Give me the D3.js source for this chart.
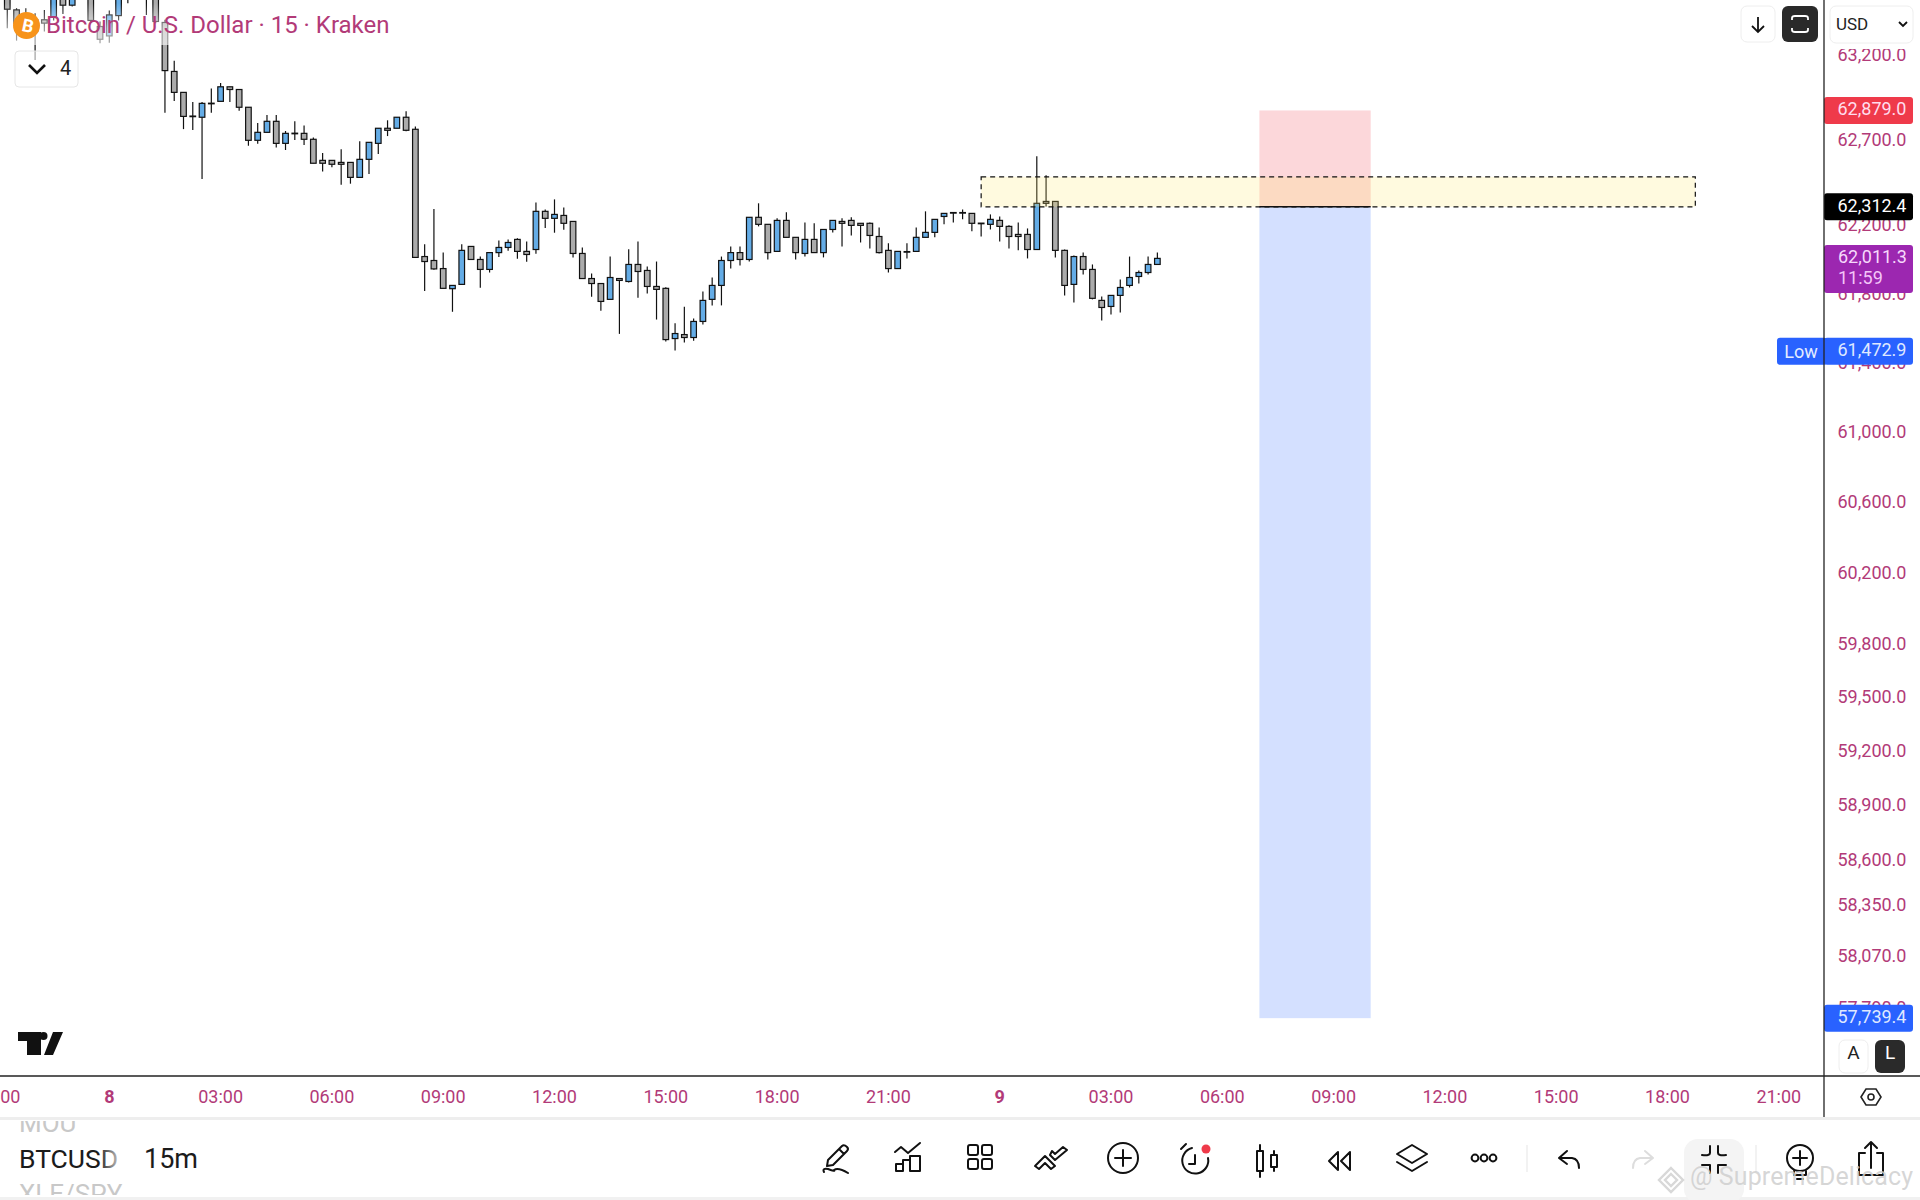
<!DOCTYPE html>
<html>
<head>
<meta charset="utf-8">
<script src="https://cdn.jsdelivr.net/npm/d3@7"></script>
<style>
  html, body { margin: 0; background: #fff; }
  text { font-family: Roboto, sans-serif; }
</style>
</head>
<body>
<div id="chart"></div>
<script>
// 15 minute bars, bar 0 is the 00:00 candle of the 8th, first bar in the lists is -11
const firstBar = -11;
const opens = [63616,63476,63357,63417,63417,63436,63576,63504,63596,63596,63377,63321,63442,63616,63656,63556,63596,63401,63110,62986,62846,62839,62920,62933,63019,63003,62898,62703,62750,62815,62685,62745,62744,62709,62585,62585,62573,62573,62485,62591,62685,62774,62774,62839,62768,62022,61999,61952,61835,61860,62081,62005,61947,62045,62075,62122,62052,62063,62286,62245,62262,62227,62040,61894,61865,61773,61894,61877,61976,61941,61848,61837,61546,61569,61552,61645,61773,61854,61999,62045,62005,62251,62210,62052,62233,62134,62040,62122,62045,62180,62227,62233,62216,62216,62139,62058,61952,62049,62052,62134,62163,62256,62277,62277,62274,62217,62210,62233,62198,62151,62151,62063,62344,62344,62058,61860,62022,61947,61767,61732,61796,61854,61906,61929,61976];
const highs = [63656,63486,63486,63456,63476,63636,63596,63616,63696,63616,63407,63472,63586,63636,63676,63636,63616,63417,63174,62986,62929,62929,63009,63041,63019,63003,62898,62805,62852,62852,62758,62815,62791,62720,62628,62585,62650,62573,62697,62691,62774,62821,62839,62874,62785,62093,62299,62045,61854,62093,62081,62022,62045,62116,62122,62128,62110,62338,62297,62356,62309,62227,62075,61923,61865,62022,61894,62065,62110,61964,61993,61843,61635,61730,61662,61819,61900,62022,62081,62081,62251,62333,62210,62245,62280,62134,62221,62216,62180,62233,62245,62251,62216,62221,62192,62099,62052,62099,62192,62286,62239,62274,62280,62297,62274,62217,62268,62256,62204,62221,62186,62609,62497,62344,62063,62028,62045,61976,61790,61796,61889,62022,61941,62022,62045];
const lows = [63367,63293,63307,63178,63347,63413,63452,63496,63576,63405,63277,63281,63413,63516,63586,63446,63397,62866,62935,62769,62764,62475,62866,62933,62929,62878,62671,62683,62750,62660,62646,62705,62675,62568,62519,62544,62442,62448,62485,62505,62622,62728,62774,62756,62017,61821,61945,61837,61701,61860,62005,61840,61929,62020,62056,62009,61991,62038,62188,62161,62178,62017,61894,61788,61707,61773,61573,61871,61782,61807,61656,61529,61477,61523,61533,61627,61738,61738,61952,61970,61993,62198,62005,62052,62134,62005,62022,62045,62017,62163,62081,62145,62104,62069,62040,61929,61952,62011,62052,62134,62134,62210,62221,62239,62169,62139,62180,62110,62069,62058,62011,62063,62315,62017,61796,61755,61917,61773,61650,61685,61697,61842,61865,61917,61976];
const closes = [63480,63393,63436,63347,63397,63616,63504,63596,63676,63413,63301,63446,63566,63556,63606,63616,63407,63115,62986,62844,62844,62921,62922,63019,63003,62898,62703,62750,62815,62685,62744,62743,62709,62568,62568,62562,62562,62485,62591,62691,62774,62762,62839,62762,62017,61993,61950,61837,61854,62058,62005,61947,62045,62075,62104,62052,62034,62286,62245,62268,62216,62040,61894,61865,61761,61900,61883,61976,61935,61848,61831,61540,61575,61552,61645,61767,61854,61999,62045,62005,62251,62210,62045,62233,62134,62045,62122,62045,62180,62233,62216,62204,62204,62145,62045,61952,62052,62051,62134,62163,62239,62274,62279,62279,62216,62215,62239,62198,62139,62139,62063,62333,62333,62058,61854,62022,61947,61779,61726,61796,61842,61900,61929,61976,62011.3];

const priceTicks = [63200,62700,62200,61800,61400,61000,60600,60200,59800,59500,59200,58900,58600,58350,58070,57790];
const timeTickBars = [-12,0,12,24,36,48,60,72,84,96,108,120,132,144,156,168,180];
const timeTickLabels = ['21:00','8','03:00','06:00','09:00','12:00','15:00','18:00','21:00','9','03:00','06:00','09:00','12:00','15:00','18:00','21:00'];

// drawings on the chart
const zonePrices = [62488, 62312.4];
const zoneBars = [94, 171];
const toolBars = [124, 136];
const stopPrice = 62879.0;
const entryPrice = 62312.4;
const targetPrice = 57739.4;
const lastPrice = 62011.3;
const lowPrice = 61472.9;

const bars = opens.map((o, i) => ({ bar: firstBar + i, o, h: highs[i], l: lows[i], c: closes[i] }));

const axisX = 1824, axisY = 1076;
const pink = '#b23a78';
const fmt = d3.format(',.1f');

const x = d3.scaleLinear().domain([0, 96]).range([109.3, 109.3 + 96 * 9.275]);
const y = d3.scaleLog().domain([57421, 63535]).range([1077, 0]);

const svg = d3.select('#chart').append('svg')
    .attr('width', 1920)
    .attr('height', 1200)
    .style('display', 'block');

const defs = svg.append('defs');
defs.append('clipPath').attr('id', 'plot')
  .append('rect').attr('width', axisX).attr('height', axisY);
defs.append('clipPath').attr('id', 'ticker')
  .append('rect').attr('y', 1121).attr('width', 130).attr('height', 74);

const legendFade = defs.append('linearGradient').attr('id', 'legendFade')
    .attr('x1', 0).attr('x2', 0).attr('y1', 0).attr('y2', 1);
legendFade.append('stop').attr('offset', 0).attr('stop-color', '#fff').attr('stop-opacity', 0);
legendFade.append('stop').attr('offset', 0.6).attr('stop-color', '#fff').attr('stop-opacity', 0.55);
legendFade.append('stop').attr('offset', 1).attr('stop-color', '#fff').attr('stop-opacity', 0.6);

const tickerFade = defs.append('linearGradient').attr('id', 'tickerFade');
tickerFade.append('stop').attr('offset', 0.8).attr('stop-color', '#1b1b1b');
tickerFade.append('stop').attr('offset', 1).attr('stop-color', '#bbb');

// candles
const plot = svg.append('g').attr('clip-path', 'url(#plot)');

const candle = plot.selectAll('g.candle')
    .data(bars)
  .join('g')
    .attr('class', 'candle');

candle.append('line')
    .attr('x1', d => x(d.bar))
    .attr('x2', d => x(d.bar))
    .attr('y1', d => y(d.h))
    .attr('y2', d => y(d.l))
    .attr('stroke', '#111')
    .attr('stroke-width', 1.2);

candle.append('rect')
    .attr('x', d => x(d.bar) - 2.8)
    .attr('width', 5.6)
    .attr('y', d => y(Math.max(d.o, d.c)))
    .attr('height', d => Math.max(0.6, y(Math.min(d.o, d.c)) - y(Math.max(d.o, d.c))))
    .attr('fill', d => d.c >= d.o ? '#64ace6' : '#ababab')
    .attr('stroke', '#111')
    .attr('stroke-width', 1.2);

// short position tool
plot.append('rect')
    .attr('x', x(toolBars[0]))
    .attr('width', x(toolBars[1]) - x(toolBars[0]))
    .attr('y', y(stopPrice))
    .attr('height', y(entryPrice) - y(stopPrice))
    .attr('fill', 'rgba(242,54,69,0.2)');
plot.append('rect')
    .attr('x', x(toolBars[0]))
    .attr('width', x(toolBars[1]) - x(toolBars[0]))
    .attr('y', y(entryPrice))
    .attr('height', y(targetPrice) - y(entryPrice))
    .attr('fill', 'rgba(41,98,255,0.2)');

// supply zone
plot.append('rect')
    .attr('x', x(zoneBars[0]))
    .attr('width', x(zoneBars[1]) - x(zoneBars[0]))
    .attr('y', y(zonePrices[0]))
    .attr('height', y(zonePrices[1]) - y(zonePrices[0]))
    .attr('fill', 'rgba(255,230,110,0.22)')
    .attr('stroke', '#111')
    .attr('stroke-width', 1.2)
    .attr('stroke-dasharray', '5,4');

plot.append('line')
    .attr('x1', x(toolBars[0]))
    .attr('x2', x(toolBars[1]))
    .attr('y1', y(entryPrice))
    .attr('y2', y(entryPrice))
    .attr('stroke', '#111')
    .attr('stroke-width', 1.4);

// legend
svg.append('rect')
    .attr('y', 3).attr('width', 395).attr('height', 42)
    .attr('fill', 'url(#legendFade)');
svg.append('circle').attr('cx', 26.5).attr('cy', 25.5).attr('r', 13.5).attr('fill', '#f7931a');
svg.append('text')
    .attr('transform', 'translate(26.5,32) rotate(12)')
    .attr('text-anchor', 'middle')
    .attr('font-size', 18)
    .attr('font-weight', 700)
    .attr('fill', '#fff')
    .text('B');
svg.append('text')
    .attr('x', 46).attr('y', 33)
    .attr('font-size', 24)
    .attr('fill', pink)
    .text('Bitcoin / U.S. Dollar · 15 · Kraken');

svg.append('rect')
    .attr('x', 15).attr('y', 51).attr('width', 63).attr('height', 36).attr('rx', 4)
    .attr('fill', 'rgba(255,255,255,0.6)')
    .attr('stroke', '#e6e6e6');
svg.append('path')
    .attr('d', 'M29,65 L37,73 L45,65')
    .attr('fill', 'none').attr('stroke', '#111').attr('stroke-width', 2.6);
svg.append('text')
    .attr('x', 60).attr('y', 75)
    .attr('font-size', 20).attr('fill', '#222')
    .text('4');

// tradingview logo
svg.append('path')
    .attr('d', 'M18,1032 H41 V1055 H27 V1041 H18 Z M53,1032 H63 L53,1055 H44 Z')
    .attr('fill', '#111');
svg.append('circle').attr('cx', 43.5).attr('cy', 1036).attr('r', 4).attr('fill', '#111');

// price axis
svg.selectAll('text.price')
    .data(priceTicks)
  .join('text')
    .attr('class', 'price')
    .attr('x', 1906.5)
    .attr('y', d => y(d) + 5)
    .attr('text-anchor', 'end')
    .attr('font-size', 18)
    .attr('fill', pink)
    .text(d => fmt(d));

const badges = [
  { price: stopPrice, fill: '#ef3a4a', h: 27, text: '#fde' },
  { price: entryPrice, fill: '#000', h: 27, text: '#fff' },
  { price: targetPrice, fill: '#2962ff', h: 27, text: '#dfe8ff' },
  { price: lowPrice, fill: '#2962ff', h: 27, text: '#dfe8ff' }
];
svg.selectAll('rect.badge')
    .data(badges)
  .join('rect')
    .attr('class', 'badge')
    .attr('x', 1824).attr('width', 89)
    .attr('y', d => y(d.price) - d.h / 2)
    .attr('height', d => d.h)
    .attr('rx', 3)
    .attr('fill', d => d.fill);
svg.selectAll('text.badge')
    .data(badges)
  .join('text')
    .attr('class', 'badge')
    .attr('x', 1906.5)
    .attr('y', d => y(d.price) + 5)
    .attr('text-anchor', 'end')
    .attr('font-size', 18)
    .attr('fill', d => d.text)
    .text(d => fmt(d.price));

// low label sticks out to the left of the axis
svg.append('rect')
    .attr('x', 1777).attr('width', 50)
    .attr('y', y(lowPrice) - 13.5).attr('height', 27).attr('rx', 3)
    .attr('fill', '#2962ff');
svg.append('text')
    .attr('x', 1801).attr('y', y(lowPrice) + 7)
    .attr('text-anchor', 'middle')
    .attr('font-size', 18).attr('fill', '#e4ecff')
    .text('Low');

// last price with countdown
svg.append('rect')
    .attr('x', 1824).attr('width', 89)
    .attr('y', y(lastPrice) - 13.5).attr('height', 48).attr('rx', 3)
    .attr('fill', '#9c27b0');
svg.append('text')
    .attr('x', 1838).attr('y', y(lastPrice) + 5)
    .attr('font-size', 18).attr('fill', '#f6d9fb')
    .text(fmt(lastPrice));
svg.append('text')
    .attr('x', 1838).attr('y', y(lastPrice) + 26)
    .attr('font-size', 18).attr('fill', '#f3c6f8')
    .text('11:59');

// time axis
svg.selectAll('text.time')
    .data(timeTickBars)
  .join('text')
    .attr('class', 'time')
    .attr('x', d => x(d))
    .attr('y', 1103)
    .attr('text-anchor', 'middle')
    .attr('font-size', 18)
    .attr('font-weight', (_, i) => timeTickLabels[i].length < 3 ? 700 : 400)
    .attr('fill', pink)
    .text((_, i) => timeTickLabels[i]);

svg.append('line').attr('x1', 0).attr('x2', 1920).attr('y1', axisY).attr('y2', axisY)
    .attr('stroke', '#222').attr('stroke-width', 1.3);
svg.append('line').attr('x1', axisX).attr('x2', axisX).attr('y1', 0).attr('y2', 1118)
    .attr('stroke', '#222').attr('stroke-width', 1.3);
svg.append('rect').attr('y', 1117).attr('width', 1920).attr('height', 3).attr('fill', '#eeeeee');
svg.append('rect').attr('y', 1197).attr('width', 1920).attr('height', 3).attr('fill', '#f1f1f1');

// top right buttons
const button = (bx, by, w, h, fill) => svg.append('rect')
    .attr('x', bx).attr('y', by).attr('width', w).attr('height', h).attr('rx', 6)
    .attr('fill', fill).attr('stroke', fill === '#fff' ? '#eeeeee' : 'none');

button(1741, 6, 34, 36, '#fff');
svg.append('path').attr('d', 'M1758,17 V32 M1752,26 L1758,32 L1764,26')
    .attr('fill', 'none').attr('stroke', '#111').attr('stroke-width', 1.8);
button(1782, 6, 36, 36, '#2a2a2a');
svg.append('path').attr('d', 'M1792,20 V18 Q1792,16 1795,16 H1805 Q1808,16 1808,18 V20 M1792,28 V30 Q1792,32 1795,32 H1805 Q1808,32 1808,30 V28')
    .attr('fill', 'none').attr('stroke', '#fff').attr('stroke-width', 1.8);
// the USD button hides the top of the first price label
svg.append('rect').attr('x', 1826).attr('y', 0).attr('width', 94).attr('height', 49).attr('fill', '#fff');
button(1830, 6, 83, 37, '#fff');
svg.append('text').attr('x', 1836).attr('y', 30).attr('font-size', 17).attr('fill', '#222').text('USD');
svg.append('path').attr('d', 'M1899,22 L1903,26 L1907,22')
    .attr('fill', 'none').attr('stroke', '#111').attr('stroke-width', 1.8);

// scale buttons
button(1839, 1040, 29, 33, '#fff');
svg.append('text').attr('x', 1853.5).attr('y', 1059).attr('text-anchor', 'middle')
    .attr('font-size', 19).attr('fill', '#222').text('A');
button(1875, 1040, 30, 33, '#2a2a2a');
svg.append('text').attr('x', 1890).attr('y', 1059).attr('text-anchor', 'middle')
    .attr('font-size', 19).attr('fill', '#fff').text('L');

// settings hexagon
svg.append('path').attr('d', 'M1861,1097 L1866,1089 H1876 L1881,1097 L1876,1105 H1866 Z')
    .attr('fill', 'none').attr('stroke', '#222').attr('stroke-width', 1.6);
svg.append('circle').attr('cx', 1871).attr('cy', 1097).attr('r', 3)
    .attr('fill', 'none').attr('stroke', '#222').attr('stroke-width', 1.6);

// bottom bar
const ticker = svg.append('g').attr('clip-path', 'url(#ticker)');
ticker.append('text').attr('x', 19).attr('y', 1132).attr('font-size', 26).attr('fill', '#c8c8c8').text('MOU');
ticker.append('text').attr('x', 19).attr('y', 1203).attr('font-size', 26).attr('fill', '#c8c8c8').text('XLE/SPY');
ticker.append('text').attr('x', 19).attr('y', 1168).attr('font-size', 26.5).attr('fill', 'url(#tickerFade)').text('BTCUSD');
svg.append('text').attr('x', 144).attr('y', 1168).attr('font-size', 27).attr('fill', '#1b1b1b').text('15m');

const icon = (cx, cy) => svg.append('g')
    .attr('transform', `translate(${cx},${cy})`)
    .attr('fill', 'none')
    .attr('stroke', '#111')
    .attr('stroke-width', 2)
    .attr('stroke-linecap', 'round')
    .attr('stroke-linejoin', 'round');

icon(836, 1158).append('path')
    .attr('d', 'M-8,2 L6,-12 Q8,-14 11,-11 Q13,-9 11,-7 L-3,7 L-9,8 Z M3,-9 L8,-4 M-12,14 Q-14,10 -8,11 Q0,14 -2,12 Q2,9 12,15');
const statsIcon = icon(908, 1158);
statsIcon.append('path').attr('d', 'M-13,-6 L-7,-11 L0,-5 L12,-15');
statsIcon.append('path').attr('d', 'M-12,13 V6 H-5 V13 Z M-5,13 V2 H2 V13 M2,13 V-2 H12 V13 Z');
const gridIcon = icon(980, 1158);
[[-12, -13], [2, -13], [-12, 1], [2, 1]].forEach(p => gridIcon.append('rect')
    .attr('x', p[0]).attr('y', p[1]).attr('width', 10).attr('height', 10).attr('rx', 2));
icon(1051, 1158).append('path')
    .attr('d', 'M-16,8 L-6,-2 L4,8 L0,11 L-6,5 L-12,11 Z M-1,-3 L4,2 L16,-8 L12,-11 L4,-4 L1,-7 Z');
const addIcon = icon(1123, 1158);
addIcon.append('circle').attr('r', 15);
addIcon.append('path').attr('d', 'M-8,0 H8 M0,-8 V8');
const alarmIcon = icon(1195, 1161);
alarmIcon.append('path').attr('d', 'M-3,-13 A13,13 0 1 0 13,-3 M-14,-12 L-9,-17 M0,-6 V3 H-6');
svg.append('circle').attr('cx', 1206).attr('cy', 1149).attr('r', 4.5).attr('fill', '#ef3a4a');
const barsIcon = icon(1267, 1161);
barsIcon.append('path').attr('d', 'M-7,-16 V-10 M-7,10 V16 M7,-10 V-6 M7,6 V10');
barsIcon.append('rect').attr('x', -10).attr('y', -10).attr('width', 6).attr('height', 20);
barsIcon.append('rect').attr('x', 4).attr('y', -6).attr('width', 6).attr('height', 12);
icon(1340, 1161).append('path').attr('d', 'M-2,-9 L-11,0 L-2,9 M10,-9 L1,0 L10,9 V-9 M-2,-9 V9');
icon(1412, 1158).append('path').attr('d', 'M0,-13 L15,-4 L0,5 L-15,-4 Z M-15,4 L0,13 L15,4');
const dotsIcon = icon(1484, 1158);
[-9, 0, 9].forEach(d => dotsIcon.append('circle').attr('cx', d).attr('r', 3.4));
svg.append('line').attr('x1', 1527).attr('x2', 1527).attr('y1', 1145).attr('y2', 1172).attr('stroke', '#eeeeee').attr('stroke-width', 1.5);
icon(1570, 1160).append('path').attr('d', 'M-3,-9 L-11,-2 L-3,4 M-11,-2 H2 Q9,-1 9,8');
const redoIcon = icon(1642, 1160);
redoIcon.attr('stroke', '#dddddd');
redoIcon.append('path').attr('d', 'M3,-9 L11,-2 L3,4 M11,-2 H-2 Q-9,-1 -9,8');
svg.append('rect').attr('x', 1684).attr('y', 1139).attr('width', 60).attr('height', 64).attr('rx', 14).attr('fill', '#f4f4f4');
icon(1714, 1160).append('path').attr('d', 'M-4,-14 V-7 Q-4,-4 -12,-5 M4,-14 V-7 Q4,-4 12,-5 M-12,5 H-4 Q-4,7 -4,13 M12,5 H4 Q4,7 4,13');
svg.append('line').attr('x1', 1756).attr('x2', 1756).attr('y1', 1145).attr('y2', 1172).attr('stroke', '#eeeeee').attr('stroke-width', 1.5);
const bulbIcon = icon(1800, 1158);
bulbIcon.append('circle').attr('r', 13);
bulbIcon.append('path').attr('d', 'M-7,0 H7 M0,-7 V7 M-6,13 V17 H6 V13 M-3,21 H3');
icon(1871, 1160).append('path').attr('d', 'M-6,-7 H-12 V15 H12 V-7 H6 M0,8 V-18 M-6,-12 L0,-18 L6,-12');

// watermark
svg.append('path').attr('d', 'M1671,1168 L1683,1180 L1671,1192 L1659,1180 Z M1671,1174 L1677,1180 L1671,1186 L1665,1180 Z')
    .attr('fill', 'none').attr('stroke', '#d8d8d8').attr('stroke-width', 2.4);
svg.append('text')
    .attr('x', 1690).attr('y', 1185)
    .attr('font-size', 25).attr('letter-spacing', 0.1)
    .attr('fill', '#cfcfcf').attr('fill-opacity', 0.85)
    .text('@ SupremeDelicacy');
</script>
</body>
</html>
